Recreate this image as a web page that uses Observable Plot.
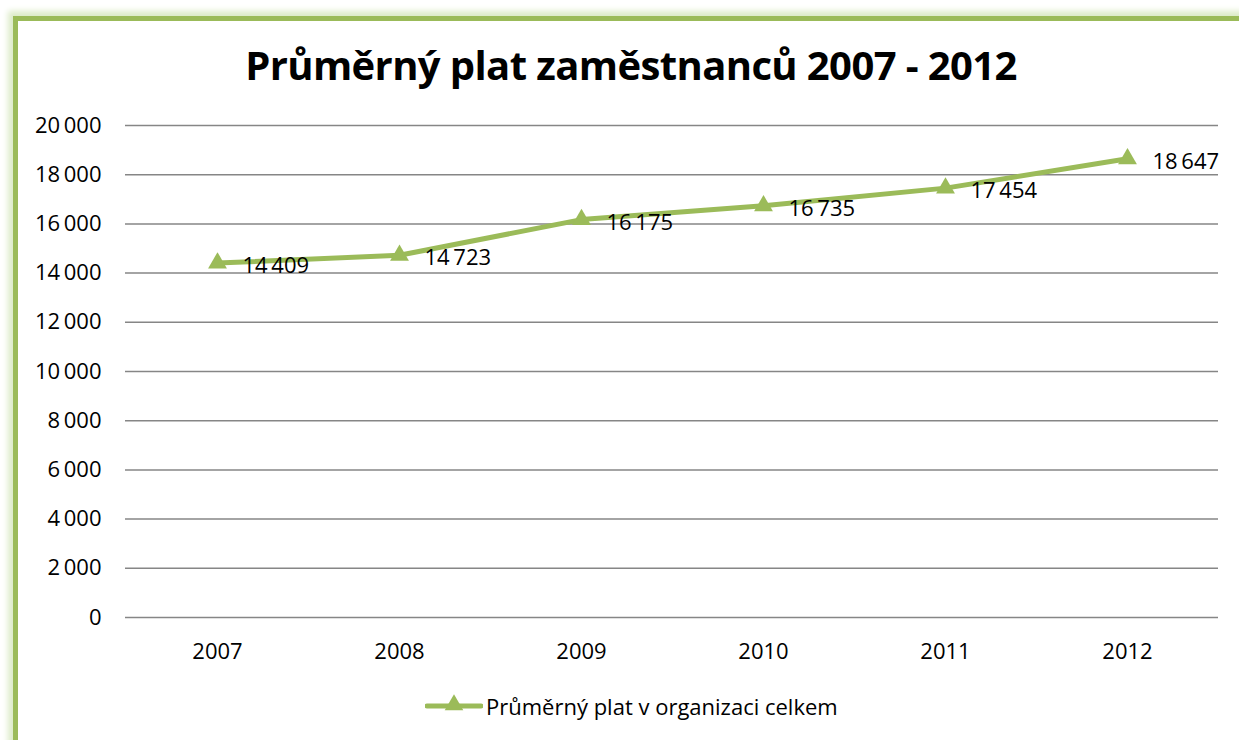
<!DOCTYPE html>
<html>
<head>
<meta charset="utf-8">
<script src="https://cdn.jsdelivr.net/npm/d3@7"></script>
<script src="https://cdn.jsdelivr.net/npm/@observablehq/plot@0.6"></script>
<style>
  html, body { margin: 0; padding: 0; background: #fff; width: 1239px; height: 740px; overflow: hidden; }
  #frame { position: absolute; left: 13px; top: 16px; width: 1260px; height: 740px;
           border: 5px solid #9bbb59; box-shadow: 0 0 6px 5px #dcebc8; background: #fff; }
  #title { position: absolute; left: 0; top: 37px; width: 1262px; text-align: center;
           font-family: "Open Sans", sans-serif; font-weight: 700; font-size: 40px; color: #000;
           letter-spacing: -0.6px; }
  #chart { position: absolute; left: 0; top: 100px; }
  #legend { position: absolute; left: 425px; top: 691px; display: flex; align-items: center;
            font-family: "Open Sans", sans-serif; font-size: 22px; color: #000; }
</style>
</head>
<body>
<div id="frame"></div>
<div id="title">Průměrný plat zaměstnanců 2007 - 2012</div>
<div id="chart"></div>
<div id="legend"></div>
<script>
const years = ["2007", "2008", "2009", "2010", "2011", "2012"];
const values = [14409, 14723, 16175, 16735, 17454, 18647];
const yTicks = [0, 2000, 4000, 6000, 8000, 10000, 12000, 14000, 16000, 18000, 20000];
const seriesName = "Průměrný plat v organizaci celkem";

const color = "#9bbb59";
const fmt = d => d3.format(",")(d).replace(/,/g, "\u2009");
const data = years.map((y, i) => ({year: y, value: values[i]}));

const plot = Plot.plot({
  width: 1239,
  height: 580,
  marginLeft: 125,
  marginRight: 21,
  marginTop: 25,
  marginBottom: 63,
  style: {fontFamily: "Open Sans, sans-serif", fontSize: "22px", color: "#000", background: "transparent"},
  x: {type: "point", domain: years, padding: 0.5, label: null},
  y: {domain: [0, 20000], label: null},
  marks: [
    Plot.gridY(yTicks, {stroke: "#868686", strokeOpacity: 1, strokeWidth: 1.5}),
    Plot.axisY({ticks: yTicks, tickSize: 0, tickPadding: 24, tickFormat: fmt, label: null, fontSize: 22}),
    Plot.axisX({tickSize: 0, tickPadding: 26, label: null, fontSize: 22}),
    Plot.line(data, {x: "year", y: "value", stroke: color, strokeWidth: 5}),
    Plot.dot(data, {x: "year", y: "value", symbol: "triangle", r: 7, fill: color, stroke: "none"}),
    Plot.text(data, {x: "year", y: "value", text: d => fmt(d.value), dx: 25, dy: 3, textAnchor: "start", fontSize: 22, fill: "#000"})
  ]
});
document.getElementById("chart").appendChild(plot);

// legend
const legend = document.getElementById("legend");
const sw = d3.create("svg").attr("width", 58).attr("height", 26);
sw.append("line").attr("x1", 2).attr("x2", 56).attr("y1", 13).attr("y2", 13)
  .attr("stroke", color).attr("stroke-width", 5).attr("stroke-linecap", "round");
sw.append("path").attr("transform", "translate(29,12)")
  .attr("d", d3.symbol(d3.symbolTriangle, 150)()).attr("fill", color);
legend.appendChild(sw.node());
const lt = document.createElement("span");
lt.textContent = seriesName;
lt.style.marginLeft = "3px";
legend.appendChild(lt);
</script>
</body>
</html>
